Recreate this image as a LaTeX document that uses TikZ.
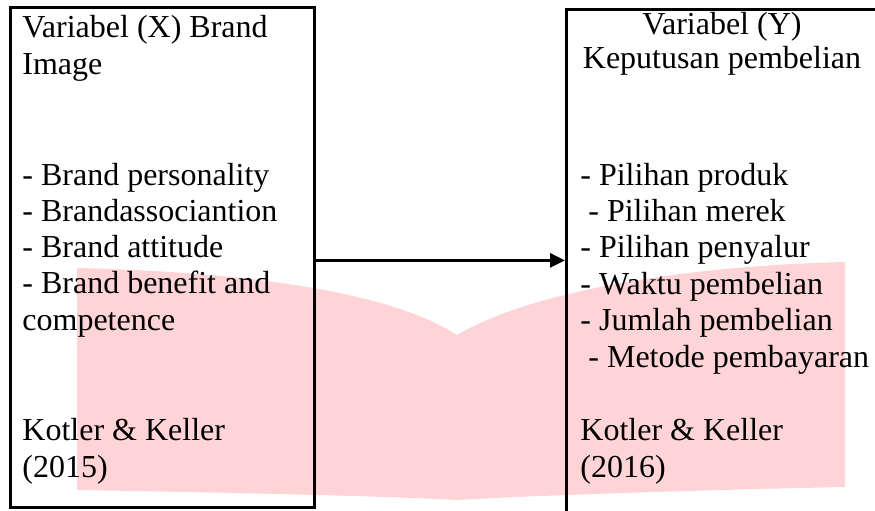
\documentclass[tikz,border=0pt]{standalone}
\usepackage{fontspec}
\setmainfont{Liberation Serif}
\usepackage{tikz}
\usetikzlibrary{arrows.meta}
\definecolor{wmark}{RGB}{255,212,214}
\tikzset{box/.style={draw,line width=1.4pt,anchor=north west,inner sep=0pt},
  txt/.style={anchor=base west,align=left,inner sep=0pt,font=\fontsize{16}{18.1}\selectfont}}

\begin{document}
\begin{tikzpicture}[x=.5pt,y=-.5pt,>={Triangle[length=7.5pt,width=7pt]}]
        \useasboundingbox (0,0) rectangle (875,510);
        \clip (0,0) rectangle (875,510);
        % background
        \fill[wmark] (77,268) .. controls (250,272) and (390,292) .. (457,335)
                .. controls (530,292) and (680,266) .. (845,262) -- (845,487)
                .. controls (700,490) and (520,496) .. (457,500)
                .. controls (390,496) and (200,492) .. (77,490) -- cycle;
        % boxes
        \node[box,minimum width=152pt,minimum height=250pt] (bx) at (9,6) {};
        \node[box,minimum width=170pt,minimum height=262pt] (by) at (565,8) {};
        \coordinate (ax) at ([yshift=-1.5pt]bx.east);
        \draw[->,line width=1.5pt] (ax) -- (ax -| by.west);
        % left texts (anchored at the last line)
        \node[txt] (xhead) at (22,74) {Variabel (X) Brand\\Image};
        \node[txt] (xlist) at (22,330) {- Brand personality\\- Brandassociantion\\- Brand attitude\\- Brand benefit and\\competence};
        \node[txt] (xref) at (22,477) {Kotler \& Keller\\(2015)};
        % right texts
        \node[txt,anchor=base,align=center,font=\fontsize{16}{17}\selectfont] (yhead) at (722,68) {Variabel (Y)\\Keputusan pembelian};
        \node[txt,font=\fontsize{16}{18.2}\selectfont] (ylist) at (580,367) {- Pilihan produk\\\hspace*{4pt}- Pilihan merek\\- Pilihan penyalur\\- Waktu pembelian\\- Jumlah pembelian\\\hspace*{4pt}- Metode pembayaran};
        \node[txt] (yref) at (580,477) {Kotler \& Keller\\(2016)};
\end{tikzpicture}
\end{document}
